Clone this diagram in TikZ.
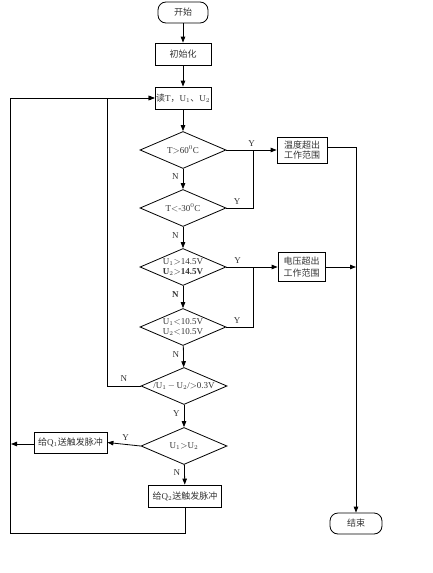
\documentclass[tikz,border=0pt]{standalone}
\usepackage{fontspec}
\setmainfont{Liberation Serif}
\newfontfamily\cjk{Noto Sans CJK SC}
\usetikzlibrary{shapes.geometric,arrows.meta}
\begin{document}
\begin{tikzpicture}[x=1pt,y=-1pt,
  every node/.style={font=\fontsize{9}{10.5}\selectfont, text=black!80},
  proc/.style={draw=black, line width=0.8pt, minimum width=56pt, minimum height=22pt, inner sep=1pt, align=center},
  term/.style={draw=black, line width=0.8pt, rounded corners=8pt, minimum width=50pt, minimum height=21pt, inner sep=1pt},
  dec/.style={draw=black, line width=0.8pt, diamond, aspect=2.3, minimum width=86pt, minimum height=37pt, inner sep=0pt, align=center},
  lbl/.style={inner sep=0pt},
  arr/.style={-{Triangle[length=6pt,width=4.5pt]}},
  ln/.style={line width=0.8pt, draw=black}]
\useasboundingbox (0,0) rectangle (433,573);

\node[term] (start) at (183,12.5) {\cjk 开始};
\node[proc] (init) at (183,54) {\cjk 初始化};
\node[proc] (read) at (183,98) {{\cjk 读}T{\cjk ，}U$_1${\cjk 、}U$_2$};
\node[dec] (d1) at (183,150) {T$>$60$^0$C};
\node[dec] (d2) at (183,208) {T$<$-30$^0$C};
\node[dec] (d3) at (183,267) {U$_1$$>$14.5V\\[-1pt]\textbf{U$_2$$>$14.5V}};
\node[dec] (d4) at (183,327) {U$_1$$<$10.5V\\[0pt]U$_2$$<$10.5V};
\node[dec] (d5) at (184,386) {/U$_1$\,$-$\,U$_2$/$>$0.3V};
\node[dec] (d6) at (184,446) {U$_1$$>$U$_2$};
\node[proc, minimum width=73pt, minimum height=21pt] (q1) at (70.5,442.5) {{\cjk 给}Q$_1${\cjk 送触发脉冲}};
\node[proc, minimum width=73pt, minimum height=22pt] (q2) at (185,496) {{\cjk 给}Q$_2${\cjk 送触发脉冲}};
\node[proc, minimum width=50pt, minimum height=26pt, inner sep=0pt] (tbox) at (302,150) {\cjk 温度超出\\[0pt]\cjk 工作范围};
\node[proc, minimum width=47pt, minimum height=29pt, inner sep=0pt] (vbox) at (301.5,267) {\cjk 电压超出\\[1pt]\cjk 工作范围};
\node[term, minimum width=52pt] (finish) at (356,523.5) {\cjk 结束};

\coordinate (j1) at (253,150);
\coordinate (j2) at (253,267);
\coordinate (rv) at (356,147);
\coordinate (rv2) at (356,267);
\coordinate (nc) at (107,98);
\coordinate (lt) at (10,98);
\coordinate (lb) at (10,533);
\coordinate (qb) at (185,533);
\coordinate (ql) at (11,444);

\draw[ln,arr] (start) -- (init);
\draw[ln,arr] (init) -- (read);
\draw[ln,arr] (read) -- (d1);
\draw[ln,arr] (d1) -- node[lbl, left=4pt, pos=0.4] {N} (d2);
\draw[ln,arr] (d2) -- node[lbl, left=4pt, pos=0.4] {N} (d3);
\draw[ln,arr] (d3) -- node[lbl, left=4pt, pos=0.4] {\textbf{N}} (d4);
\draw[ln,arr] (d4) -- node[lbl, left=4pt, pos=0.4] {N} (d5);
\draw[ln,arr] (d5) -- node[lbl, left=4pt, pos=0.4] {Y} (d6);
\draw[ln,arr] (d6) -- node[lbl, left=4pt, pos=0.4] {N} (q2);

\draw[ln,arr] (d1.east) -- node[lbl, above=3pt, pos=0.5] {Y} (tbox.west);
\draw[ln] (d2.east) -- node[lbl, above=3pt, pos=0.4] {Y} (d2.east -| j1) -- (j1);
\draw[ln,arr] (d3.east) -- node[lbl, above=3pt, pos=0.22] {Y} (vbox.west);
\draw[ln] (d4.east) -- node[lbl, above=3pt, pos=0.4] {Y} (d4.east -| j2) -- (j2);

\draw[ln,arr] (tbox.east |- rv) -- (rv) -- (finish.north);
\draw[ln,arr] (vbox.east) -- (rv2);

\draw[ln,arr] (d5.west) -- node[lbl, above=4pt, pos=0.5] {N} (d5.west -| nc) -- (nc) -- (read.west);
\draw[ln,arr] (d6.west) -- node[lbl, above=4pt, pos=0.45] {Y} (q1.east);
\draw[ln,arr] (q1.west |- ql) -- (ql);
\draw[ln,arr] (q2.south) -- (qb) -- (lb) -- (lt) -- (read.west);
\end{tikzpicture}
\end{document}
